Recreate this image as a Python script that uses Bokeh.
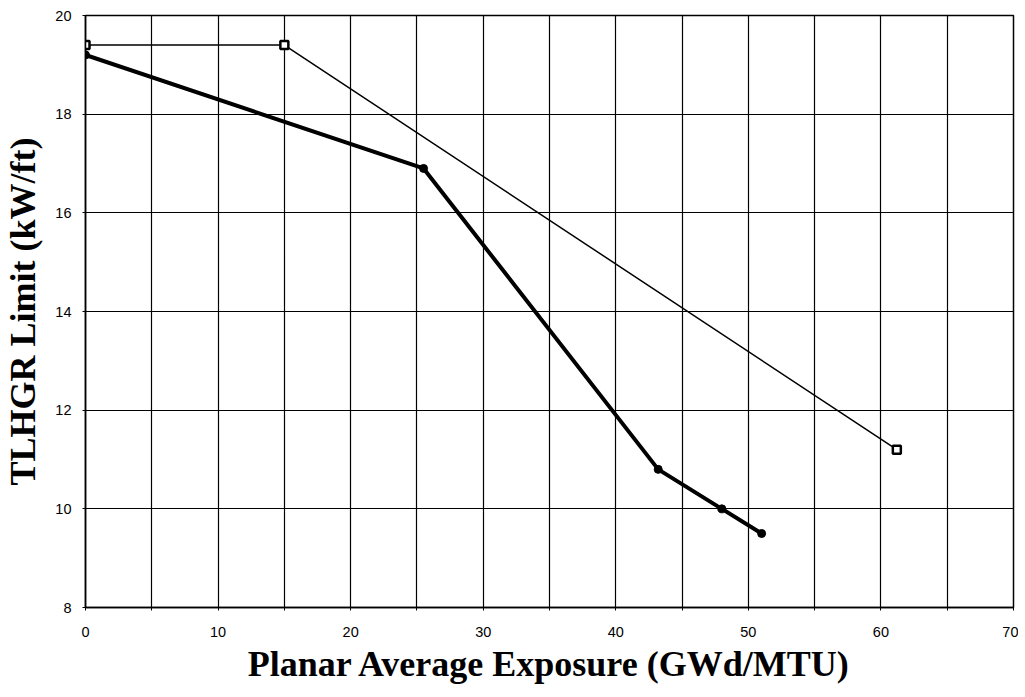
from bokeh.plotting import figure
from bokeh.models import FixedTicker
from bokeh.embed import file_html
from bokeh.resources import INLINE

# Data
limit_x = [0, 15, 61.2]
limit_y = [19.4, 19.4, 11.2]
curve_x = [0, 25.5, 43.2, 48.0, 51.0]
curve_y = [19.2, 16.9, 10.8, 10.0, 9.5]

x_major = [0, 10, 20, 30, 40, 50, 60, 70]
x_minor = [5, 15, 25, 35, 45, 55, 65]
x_grid = [0, 5, 10, 15, 20, 25, 30, 35, 40, 45, 50, 55, 60, 65, 70]
y_major = [8, 10, 12, 14, 16, 18, 20]

p = figure(output_backend="svg", toolbar_location=None,
           x_range=(0, 70), y_range=(8, 20),
           frame_width=928, frame_height=592,
           min_border_left=85, min_border_top=15, min_border_right=5,
           min_border_bottom=80)
p.background_fill_color = "white"
p.border_fill_color = "white"
p.outline_line_color = "black"
p.outline_line_width = 1.5

p.xaxis.ticker = FixedTicker(ticks=x_major, minor_ticks=x_minor)
p.yaxis.ticker = FixedTicker(ticks=y_major, minor_ticks=[])
p.xgrid.ticker = FixedTicker(ticks=x_grid)
p.ygrid.ticker = FixedTicker(ticks=y_major)
for g in (p.xgrid, p.ygrid):
    g.grid_line_color = "black"
    g.grid_line_width = 1.2
    g.grid_line_alpha = 1.0

for ax in (p.xaxis, p.yaxis):
    ax.axis_line_color = "black"
    ax.axis_line_width = 1.5
    ax.major_tick_line_color = "black"
    ax.minor_tick_line_color = "black"
    ax.major_tick_in = 3
    ax.major_tick_out = 3
    ax.minor_tick_in = 3
    ax.minor_tick_out = 3
    ax.major_label_text_font = "Liberation Sans"
    ax.major_label_text_font_size = "14.5px"
    ax.major_label_text_color = "black"
    ax.axis_label_text_font = "Liberation Serif"
    ax.axis_label_text_font_style = "bold"
    ax.axis_label_text_font_size = "36px"
    ax.axis_label_text_color = "black"

p.xaxis.axis_label = "Planar Average Exposure (GWd/MTU)"
p.yaxis.axis_label = "TLHGR Limit (kW/ft)"
p.xaxis.major_label_standoff = 16
p.yaxis.major_label_standoff = 11
p.xaxis.axis_label_standoff = 4
p.yaxis.axis_label_standoff = 9

p.line(limit_x, limit_y, line_color="black", line_width=1.5)
p.scatter(limit_x, limit_y, marker="square", size=8, fill_color="white",
          line_color="black", line_width=2.5)
p.line(curve_x, curve_y, line_color="black", line_width=4)
p.scatter(curve_x, curve_y, marker="circle", size=8, fill_color="black",
          line_color="black")

open("out.html", "w").write(file_html(p, INLINE))
